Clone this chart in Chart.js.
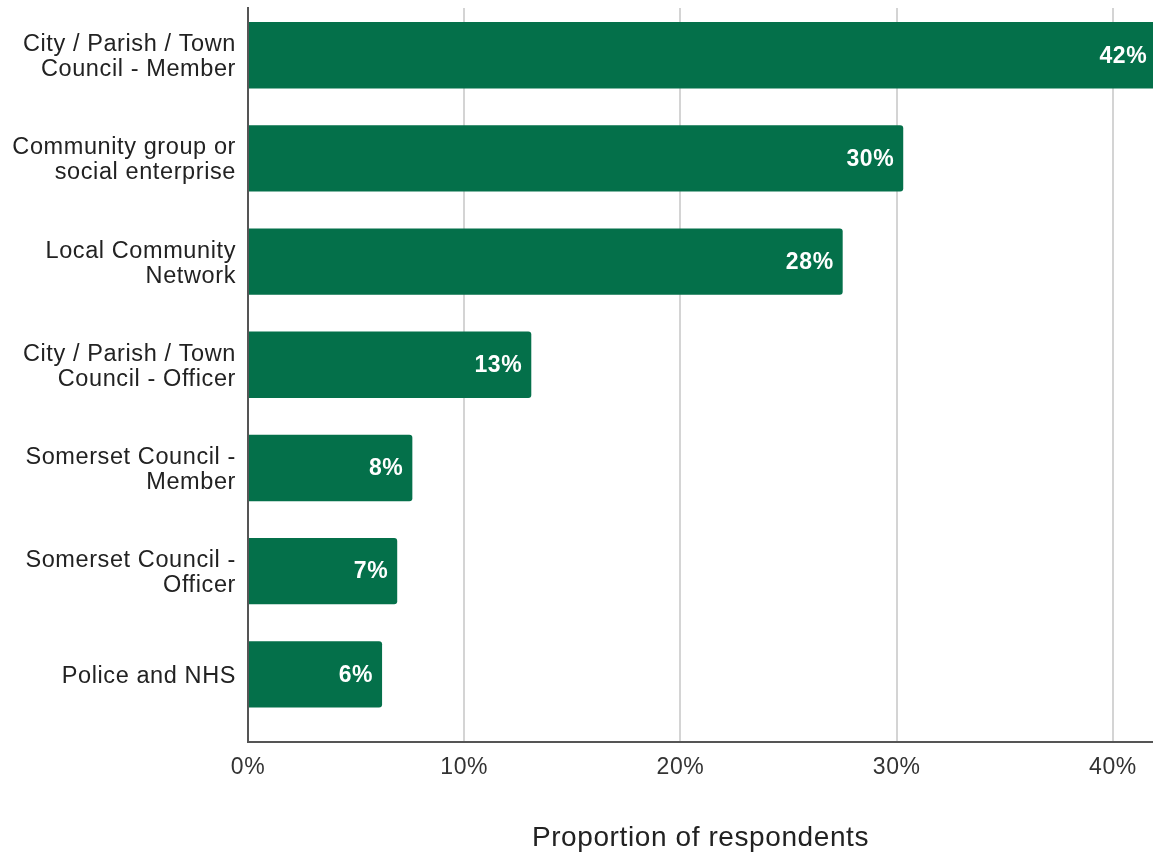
<!DOCTYPE html>
<html lang="en">
<head>
    <meta charset="UTF-8">
    <title>Proportion of respondents</title>
    <script src="https://cdn.jsdelivr.net/npm/chart.js"></script>
    <style>
        html, body { margin: 0; padding: 0; background: #fff; }
        #wrap { width: 1153px; height: 856px; }
    </style>
</head>
<body>
<div id="wrap"><canvas id="myChart" width="1153" height="856"></canvas></div>
<script>
    var categories = [
        ['City / Parish / Town', 'Council - Member'],
        ['Community group or', 'social enterprise'],
        ['Local Community', 'Network'],
        ['City / Parish / Town', 'Council - Officer'],
        ['Somerset Council -', 'Member'],
        ['Somerset Council -', 'Officer'],
        ['Police and NHS']
    ];
    var values = [42.0, 30.3, 27.5, 13.1, 7.6, 6.9, 6.2];
    var valueLabels = ['42%', '30%', '28%', '13%', '8%', '7%', '6%'];
    var xTicks = [0, 10, 20, 30, 40];

    var green = '#04704a';
    var font = "'Liberation Sans', Arial, sans-serif";

    var points = values.map(function (v, i) { return { x: v, y: i }; });

    // the original text is set a touch wide, so add a little tracking
    var wideText = {
        id: 'wideText',
        beforeInit: function (chart) { chart.ctx.letterSpacing = '0.6px'; },
        beforeUpdate: function (chart) { chart.ctx.letterSpacing = '0.6px'; },
        beforeDraw: function (chart) { chart.ctx.letterSpacing = '0.6px'; }
    };

    var barLabels = {
        id: 'barLabels',
        afterDatasetsDraw: function (chart) {
            var ctx = chart.ctx;
            var meta = chart.getDatasetMeta(0);
            ctx.save();
            ctx.fillStyle = '#ffffff';
            ctx.font = 'bold 23px ' + font;
            ctx.textAlign = 'right';
            ctx.textBaseline = 'middle';
            meta.data.forEach(function (bar, i) {
                ctx.fillText(valueLabels[i], bar.x - 9, bar.y + 1);
            });
            ctx.restore();
        }
    };

    var config = {
        type: 'bar',
        data: {
            datasets: [{
                data: points,
                backgroundColor: green,
                borderRadius: 3,
                barPercentage: 0.643,
                categoryPercentage: 1.0
            }]
        },
        options: {
            indexAxis: 'y',
            responsive: false,
            animation: false,
            layout: { padding: { top: 8, right: 0, left: 0, bottom: 0 } },
            plugins: {
                legend: { display: false },
                tooltip: { enabled: false }
            },
            scales: {
                x: {
                    type: 'linear',
                    min: 0,
                    max: 41.85,
                    bounds: 'data',
                    afterFit: function (scale) { scale.height = 114; },
                    afterBuildTicks: function (scale) {
                        scale.ticks = xTicks.map(function (v) { return { value: v }; });
                    },
                    ticks: {
                        padding: 12,
                        color: '#333',
                        font: { family: font, size: 23 },
                        callback: function (v) { return v + '%'; }
                    },
                    grid: { color: '#d4d4d4', lineWidth: 2, drawTicks: false },
                    border: { color: '#555', width: 2 },
                    title: {
                        display: true,
                        text: 'Proportion of respondents',
                        color: '#222',
                        font: { family: font, size: 28 },
                        padding: { top: 0, bottom: 1 }
                    }
                },
                y: {
                    type: 'linear',
                    reverse: true,
                    offset: false,
                    bounds: 'data',
                    min: -0.458,
                    max: 6.656,
                    afterBuildTicks: function (scale) {
                        scale.ticks = categories.map(function (c, i) { return { value: i }; });
                    },
                    afterFit: function (scale) {
                        scale.width = 248;
                        scale.paddingTop = 0;
                        scale.paddingBottom = 0;
                    },
                    ticks: {
                        padding: 12,
                        labelOffset: 2,
                        color: '#222',
                        font: { family: font, size: 23.5, lineHeight: 1.064 },
                        callback: function (v) { return categories[v] || ''; }
                    },
                    grid: { display: false, drawTicks: false, offset: false },
                    border: { color: '#555', width: 2 }
                }
            }
        },
        plugins: [wideText, barLabels]
    };

    window.onload = function () {
        var ctx = document.getElementById('myChart').getContext('2d');
        window.myBar = new Chart(ctx, config);
    };
</script>
</body>
</html>
